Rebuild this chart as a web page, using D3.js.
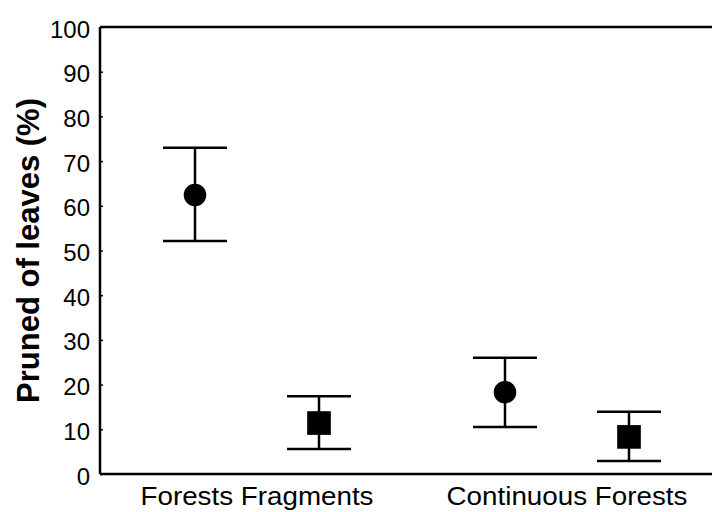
<!DOCTYPE html>
<html>
<head>
<meta charset="utf-8">
<script src="https://cdn.jsdelivr.net/npm/d3@7"></script>
<style>
  body { margin: 0; background: #fff; }
  text { font-family: "Liberation Sans", Arial, sans-serif; fill: #000; }
</style>
</head>
<body>
<div id="chart"></div>
<script>
// groups and treatments
const categories = ['Forests Fragments', 'Continuous Forests'];
const categoryPos = [1.5, 4];
const pointPos = [1, 2, 3.5, 4.5];
const pointShape = ['circle', 'square', 'circle', 'square'];
const meanValues = [62.4, 11.4, 18.3, 8.3];
const upperValues = [73, 17.4, 26, 13.9];
const lowerValues = [52.1, 5.6, 10.5, 2.9];
const yTicks = [0, 10, 20, 30, 40, 50, 60, 70, 80, 90, 100];

const width = 712, height = 512;
const margin = { top: 27, right: 0, bottom: 38, left: 100 };

const svg = d3.select('#chart')
  .append('svg')
  .attr('width', width)
  .attr('height', height);

const xScale = d3.scaleLinear().domain([1, 4.5]).range([195, 629]);
const yScale = d3.scaleLinear().domain([0, 100]).range([height - margin.bottom, margin.top]);

// y axis with small inward ticks
const yAxis = svg.append('g')
  .attr('transform', `translate(${margin.left},0)`)
  .call(d3.axisLeft(yScale).tickValues(yTicks).tickSize(-3).tickPadding(10));
yAxis.select('.domain').remove();
yAxis.selectAll('.tick line').attr('stroke', '#000').attr('stroke-width', 1.5);
yAxis.selectAll('.tick text')
  .attr('font-size', 24)
  .attr('dy', '0.42em');

// frame: left, bottom, top
const frame = svg.append('g').attr('stroke', '#000').attr('fill', 'none');
frame.append('line')
  .attr('x1', margin.left).attr('x2', margin.left)
  .attr('y1', yScale(100)).attr('y2', yScale(0))
  .attr('stroke-width', 2.5);
frame.append('line')
  .attr('x1', margin.left).attr('x2', width)
  .attr('y1', yScale(0)).attr('y2', yScale(0))
  .attr('stroke-width', 2.5);
frame.append('line')
  .attr('x1', margin.left).attr('x2', width)
  .attr('y1', yScale(100)).attr('y2', yScale(100))
  .attr('stroke-width', 2.5);

// category labels
svg.selectAll('.cat')
  .data(categories)
  .enter()
  .append('text')
  .attr('class', 'cat')
  .attr('x', (d, i) => xScale(categoryPos[i]))
  .attr('y', 505)
  .attr('text-anchor', 'middle')
  .attr('font-size', 25)
  .attr('textLength', (d, i) => (i === 0 ? 233 : 241))
  .attr('lengthAdjust', 'spacingAndGlyphs')
  .text((d) => d);

// y title
svg.append('text')
  .attr('transform', `translate(39,${(yScale(0) + yScale(100)) / 2}) rotate(-90)`)
  .attr('text-anchor', 'middle')
  .attr('font-size', 31)
  .attr('font-weight', 'bold')
  .text('Pruned of leaves (%)');

// error bars
const capHalf = 32;
const bars = svg.append('g').attr('stroke', '#000').attr('stroke-width', 2.5);
pointPos.forEach((p, i) => {
  const x = xScale(p);
  bars.append('line')
    .attr('x1', x).attr('x2', x)
    .attr('y1', yScale(upperValues[i])).attr('y2', yScale(lowerValues[i]));
  bars.append('line')
    .attr('x1', x - capHalf).attr('x2', x + capHalf)
    .attr('y1', yScale(upperValues[i])).attr('y2', yScale(upperValues[i]));
  bars.append('line')
    .attr('x1', x - capHalf).attr('x2', x + capHalf)
    .attr('y1', yScale(lowerValues[i])).attr('y2', yScale(lowerValues[i]));
});

// markers
svg.selectAll('.marker')
  .data(meanValues)
  .enter()
  .append('path')
  .attr('class', 'marker')
  .attr('transform', (d, i) => `translate(${xScale(pointPos[i])},${yScale(d)})`)
  .attr('d', (d, i) => d3.symbol()
    .type(pointShape[i] === 'circle' ? d3.symbolCircle : d3.symbolSquare)
    .size(pointShape[i] === 'circle' ? 400 : 560)())
  .attr('fill', '#000');
</script>
</body>
</html>
